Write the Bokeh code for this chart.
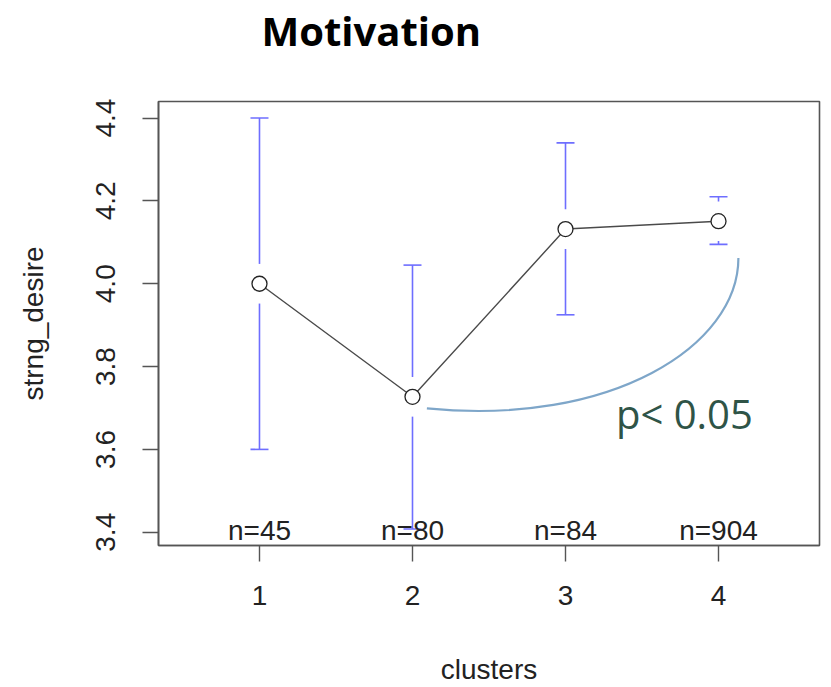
import numpy as np
from bokeh.plotting import figure
from bokeh.models import Range1d, FixedTicker, Label, Title, PrintfTickFormatter
from bokeh.core.properties import value
from bokeh.embed import file_html
from bokeh.resources import INLINE

# ---- data ----
clusters = [1, 2, 3, 4]
means = [4.000, 3.727, 4.132, 4.151]
upper = [4.400, 4.045, 4.340, 4.210]
lower = [3.600, 3.408, 3.925, 4.095]
n_labels = ["n=45", "n=80", "n=84", "n=904"]
y_ticks = [3.4, 3.6, 3.8, 4.0, 4.2, 4.4]
x_ticks = [1, 2, 3, 4]
title_text = "Motivation"
x_label = "clusters"
y_label = "strng_desire"
p_text = "p< 0.05"

# ---- layout / style ----
W, H = 831, 687
LEFT, RIGHT, TOP, BOTTOM = 158, 12, 99, 140
Y0, Y1 = 3.368, 4.440
X0, X1 = 0.34, 4.66
R_FONT = "Liberation Sans"
R_SIZE = "28px"
BLUE = "#6e6eff"
GAP_PX = 20
frame_h = H - TOP - BOTTOM
px = (Y1 - Y0) / frame_h  # data units per pixel (y)

p = figure(width=W, height=H, output_backend="svg", toolbar_location=None,
           x_range=Range1d(X0, X1), y_range=Range1d(Y0, Y1),
           min_border_left=LEFT, min_border_right=RIGHT,
           min_border_top=TOP, min_border_bottom=BOTTOM)
p.background_fill_color = "white"
p.border_fill_color = "white"
p.grid.visible = False
p.outline_line_color = "#555555"
p.outline_line_width = 1.6

# spacer between frame and title, then the title itself
p.add_layout(Title(text=" ", text_font_size="20px", standoff=20), "above")
p.add_layout(Title(text=title_text, text_font="Open Sans", text_font_size="40px",
                   text_font_style="bold", text_color="black", align="left",
                   offset=103, standoff=0, vertical_align="bottom"), "above")

# axes
for ax in (p.xaxis[0], p.yaxis[0]):
    ax.axis_line_color = "#555555"
    ax.axis_line_width = 1.6
    ax.major_tick_line_color = "#555555"
    ax.major_tick_line_width = 1.4
    ax.major_tick_out = 16
    ax.major_tick_in = 0
    ax.minor_tick_line_color = None
    ax.major_label_text_font = R_FONT
    ax.major_label_text_font_size = R_SIZE
    ax.major_label_text_color = "#222222"
    ax.axis_label_text_font = R_FONT
    ax.axis_label_text_font_size = R_SIZE
    ax.axis_label_text_font_style = "normal"
    ax.axis_label_text_color = "#222222"

p.xaxis.ticker = FixedTicker(ticks=x_ticks)
p.xaxis.major_label_standoff = 24
p.xaxis.axis_label = x_label
p.xaxis.axis_label_standoff = 46

p.yaxis.ticker = FixedTicker(ticks=y_ticks)
p.yaxis.formatter = PrintfTickFormatter(format="%.1f")
p.yaxis.major_label_orientation = "vertical"
p.yaxis.major_label_standoff = 27
p.yaxis.axis_label = y_label
p.yaxis.axis_label_standoff = 45

# error bars with gap around the mean point
gap = GAP_PX * px
seg_x, seg_y0, seg_y1 = [], [], []
for x, m, u, l in zip(clusters, means, upper, lower):
    if u > m + gap:
        seg_x.append(x); seg_y0.append(m + gap); seg_y1.append(u)
    if l < m - gap:
        seg_x.append(x); seg_y0.append(l); seg_y1.append(m - gap)
p.segment(x0=seg_x, y0=seg_y0, x1=seg_x, y1=seg_y1, line_color=BLUE, line_width=1.6)
p.scatter(x=clusters, y=upper, marker="dash", size=18, line_color=BLUE, line_width=1.6)
p.scatter(x=clusters, y=lower, marker="dash", size=18, line_color=BLUE, line_width=1.6)

# mean line + points
p.line(x=clusters, y=means, line_color="#4a4a4a", line_width=1.4)
p.scatter(x=clusters, y=means, marker="circle", size=15, fill_color="white",
          line_color="#222222", line_width=1.3)

# n labels at the bottom of the plot region
p.text(x=clusters, y=[Y0 + 15 * px] * len(clusters), text=n_labels,
       text_font=value(R_FONT), text_font_size=R_SIZE, text_align="center",
       text_baseline="middle", text_color="#222222")

# significance arc between cluster 2 and cluster 4
a_x0, a_y0 = clusters[1] + 0.094, means[1] - 0.028
a_x1, a_y1 = clusters[3] + 0.13, means[3] - 0.089
p.bezier(x0=[a_x0], y0=[a_y0], x1=[a_x1], y1=[a_y1],
         cx0=[3.30], cy0=[3.655], cx1=[a_x1], cy1=[3.85],
         line_color="#7ea6c9", line_width=2.2)

p.add_layout(Label(x=3.33, y=3.686, text=p_text, text_font="Open Sans",
                   text_font_size="40px", text_color="#2f5447",
                   text_baseline="middle"))

open("out.html", "w").write(file_html(p, INLINE))
